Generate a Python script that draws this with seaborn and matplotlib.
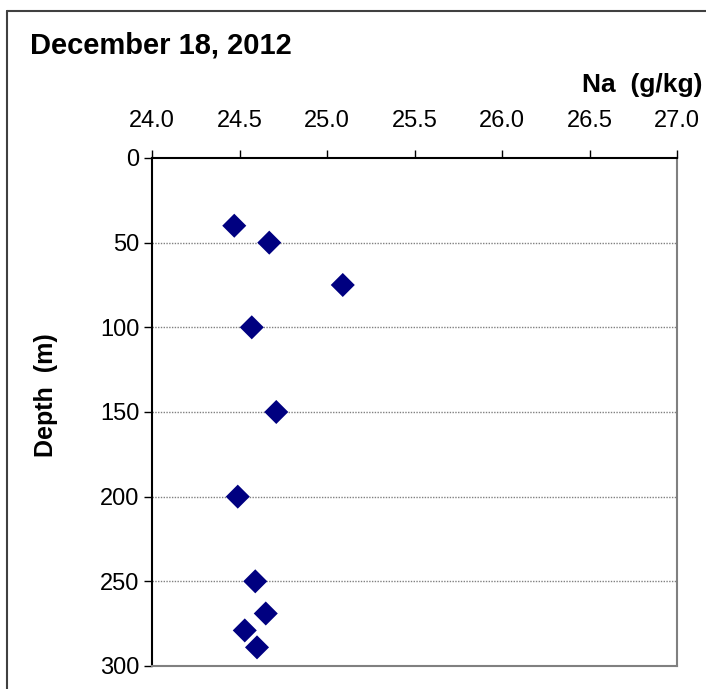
import numpy as np
import pandas as pd
import matplotlib
matplotlib.use("Agg")
import matplotlib.pyplot as plt
import seaborn as sns

# Na concentration (g/kg) vs depth (m)
na_values = [24.47, 24.67, 25.09, 24.57, 24.71, 24.49, 24.59, 24.65, 24.53, 24.60]
depths = [40, 50, 75, 100, 150, 200, 250, 269, 279, 289]
x_ticks = [24.0, 24.5, 25.0, 25.5, 26.0, 26.5, 27.0]
y_ticks = [0, 50, 100, 150, 200, 250, 300]

df = pd.DataFrame({"Na": na_values, "Depth": depths})

sns.set_style("white")
plt.rcParams["font.family"] = ["Liberation Sans", "DejaVu Sans"]
plt.rcParams["text.color"] = "black"
plt.rcParams["xtick.color"] = "black"
plt.rcParams["ytick.color"] = "black"
plt.rcParams["axes.labelcolor"] = "black"

fig = plt.figure(figsize=(7.06, 6.89), dpi=100)
ax = fig.add_axes([0.2153, 0.0334, 0.959 - 0.2153, 0.7707 - 0.0334])

sns.scatterplot(data=df, x="Na", y="Depth", marker="D", color="#000080",
                s=150, edgecolor="none", ax=ax, zorder=3)

ax.set_xlim(24.0, 27.0)
ax.set_ylim(300, 0)
ax.set_xticks(x_ticks)
ax.set_xticklabels([f"{t:.1f}" for t in x_ticks])
ax.set_yticks(y_ticks)
ax.xaxis.tick_top()
ax.tick_params(axis="x", direction="out", length=6, width=1, pad=13, labelsize=17)
ax.tick_params(axis="y", direction="out", length=6, width=1, pad=3, labelsize=17)
ax.tick_params(top=True, bottom=False, left=True, right=False)

for y in y_ticks[1:-1]:
    ax.axhline(y, color="#808080", linestyle=(0, (1, 1)), linewidth=1, zorder=1)

ax.spines["top"].set_color("black")
ax.spines["left"].set_color("black")
ax.spines["right"].set_color("#808080")
ax.spines["bottom"].set_color("#808080")
for sp in ax.spines.values():
    sp.set_linewidth(1.5)
    sp.set_visible(True)

ax.set_xlabel("")
ax.set_ylabel("Depth  (m)", fontsize=18, fontweight="bold")
ax.yaxis.set_label_coords(-0.179, 0.533)

fig.text(30 / 706, 1 - 45 / 689, "December 18, 2012", fontsize=21, fontweight="bold",
         ha="left", va="center")
fig.text(703 / 706, 1 - 85 / 689, "Na  (g/kg)", fontsize=19, fontweight="bold",
         ha="right", va="center")

# outer frame
fig.add_artist(plt.Line2D([7 / 706, 1.0], [1 - 11 / 689, 1 - 11 / 689], color="#404040", lw=1.5))
fig.add_artist(plt.Line2D([7 / 706, 7 / 706], [0, 1 - 11 / 689], color="#404040", lw=1.5))

fig.savefig("out.png", dpi=100)
